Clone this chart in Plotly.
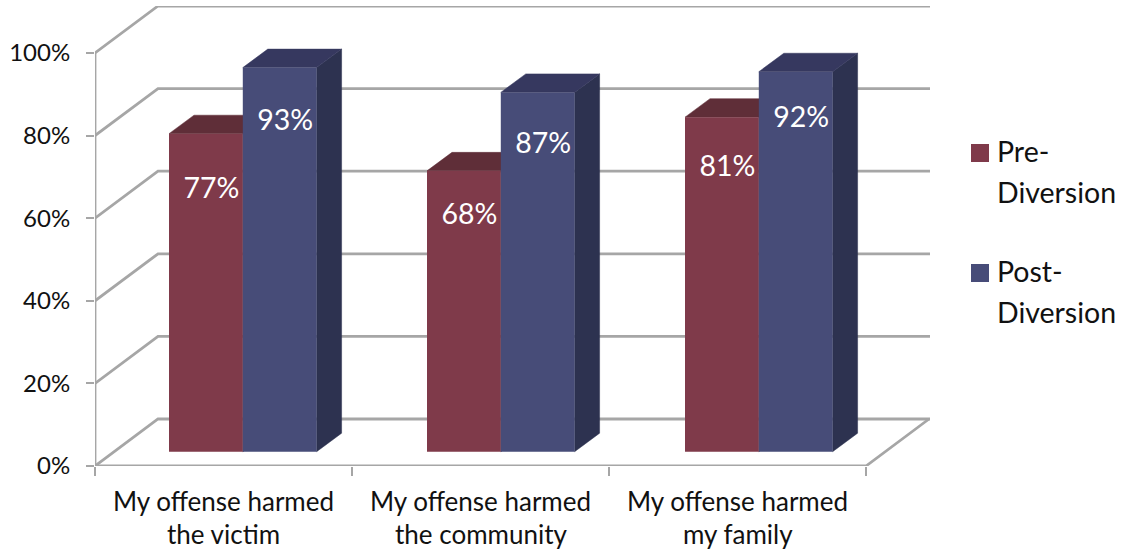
import plotly.graph_objects as go

# ---- data ----
cat_line1 = ["My offense harmed", "My offense harmed", "My offense harmed"]
cat_line2 = ["the victim", "the community", "my family"]
series_names = ["Pre-Diversion", "Post-Diversion"]
pre_values = [77, 68, 81]
post_values = [93, 87, 92]
y_ticks = [0, 20, 40, 60, 80, 100]

# ---- styling / projection ----
W, H = 1125, 550
L, R, T, B = 95, 930, 6, 466
PX_X = 257.0            # px per category
PX_Y = 4.13             # px per percent
FONT = "Lato"
FS_AXIS = 24
FS_CAT = 26
FS_LABEL = 28.5
FS_LEGEND = 28.5
GRID = "#A6A6A6"
TXT = "#111111"
PRE = dict(front="#7F3A4A", top="#5F2E38", side="#552A34")
POST = dict(front="#474C78", top="#36385F", side="#2D3250")

WALL_DX, WALL_DY = 63 / PX_X, 47 / PX_Y
BAR_DY = 14.3 / PX_Y     # bars sit inside the floor
BAR_X0, BAR_W = 74 / PX_X, 73.8 / PX_X
BAR_STEP = 258 / PX_X
SIDE_DX, SIDE_DY = 25 / PX_X, 18.5 / PX_Y
X_MAX = (R - L) / PX_X
Y_MAX = (B - T) / PX_Y
LABEL_DX = 5.5 / PX_X
LABEL_DROP_PX = [[57, 46, 52], [55, 53, 48]]

fig = go.Figure()


def line(xs, ys):
    fig.add_trace(go.Scatter(x=xs, y=ys, mode="lines", showlegend=False, hoverinfo="skip",
                             line=dict(color=GRID, width=2.8), cliponaxis=False, zorder=0))


def face(xs, ys, color, z):
    fig.add_trace(go.Scatter(x=xs, y=ys, mode="lines", fill="toself", fillcolor=color,
                             line=dict(color=color, width=0.5), showlegend=False,
                             hoverinfo="skip", zorder=z))


# walls and floor
for g in y_ticks:
    line([0, WALL_DX, X_MAX], [g, g + WALL_DY, g + WALL_DY])
line([0, 0], [0, 100])
line([0, 3, 3 + WALL_DX], [0, 0, WALL_DY])

# bars: side + top drawn behind, front faces via bar traces
for s, (vals, col, name) in enumerate(zip([pre_values, post_values], [PRE, POST], series_names)):
    z = 1 + 2 * s
    for i, v in enumerate(vals):
        x0 = i * BAR_STEP + BAR_X0 + s * BAR_W
        x1 = x0 + BAR_W
        y0, y1 = BAR_DY, BAR_DY + v
        face([x1, x1 + SIDE_DX, x1 + SIDE_DX, x1, x1],
             [y0, y0 + SIDE_DY, y1 + SIDE_DY, y1, y0], col["side"], z)
        face([x0, x0 + SIDE_DX, x1 + SIDE_DX, x1, x0],
             [y1, y1 + SIDE_DY, y1 + SIDE_DY, y1, y1], col["top"], z)
    fig.add_trace(go.Bar(
        x=[i * BAR_STEP + BAR_X0 + (s + 0.5) * BAR_W for i in range(3)], y=vals, base=BAR_DY,
        width=BAR_W, marker=dict(color=col["front"], line=dict(width=0)),
        name=name, showlegend=False, zorder=z + 1))

# data labels
for s, vals in enumerate([pre_values, post_values]):
    fig.add_trace(go.Scatter(
        x=[i * BAR_STEP + BAR_X0 + (s + 0.5) * BAR_W + LABEL_DX for i in range(3)],
        y=[BAR_DY + v - d / PX_Y for v, d in zip(vals, LABEL_DROP_PX[s])],
        text=[f"{v}%" for v in vals], mode="text", showlegend=False, hoverinfo="skip",
        textfont=dict(family=FONT, size=FS_LABEL, color="white"), zorder=9))

# second line of each category label
annotations = [dict(x=i + 0.5, xref="x", y=(B - 534) / (B - T), yref="paper", text=t, showarrow=False,
                    font=dict(family=FONT, size=FS_CAT, color=TXT),
                    xanchor="center", yanchor="middle")
               for i, t in enumerate(cat_line2)]

# legend: swatch + two text rows
shapes = []
for name, col, y0 in zip(series_names, [PRE, POST], [144, 264]):
    shapes.append(dict(type="rect", xref="paper", yref="paper",
                       x0=(971 - L) / (R - L), x1=(989 - L) / (R - L),
                       y0=(B - y0 - 18) / (B - T), y1=(B - y0) / (B - T),
                       fillcolor=col["front"], line=dict(width=0)))
    a, b = name.split("-")
    for txt, py in ((a + "-", y0 + 7), (b, y0 + 48)):
        annotations.append(dict(x=(997 - L) / (R - L), xref="paper", y=(B - py) / (B - T), yref="paper",
                                text=txt, showarrow=False, xanchor="left", yanchor="middle",
                                xshift=-2, font=dict(family=FONT, size=FS_LEGEND, color=TXT)))

fig.update_layout(
    width=W, height=H, autosize=False,
    margin=dict(l=L, r=W - R, t=T, b=H - B, pad=0),
    paper_bgcolor="white", plot_bgcolor="white",
    barmode="overlay", showlegend=False,
    font=dict(family=FONT, size=FS_AXIS, color=TXT),
    annotations=annotations, shapes=shapes,
    xaxis=dict(range=[0, X_MAX], tickmode="array", tickvals=[0.5, 1.5, 2.5], ticktext=cat_line1,
               tickfont=dict(size=FS_CAT),
               ticks="", showgrid=False, zeroline=False, showline=False, ticklabelstandoff=18,
               minor=dict(tickmode="array", tickvals=[0, 1, 2, 3], ticks="outside", ticklen=9,
                          tickwidth=2, tickcolor=GRID, showgrid=False)),
    yaxis=dict(range=[0, Y_MAX], tickmode="array", tickvals=y_ticks,
               ticktext=[f"{v}%" for v in y_ticks], ticks="outside", ticklen=8, tickwidth=2,
               tickcolor=GRID, showgrid=False, zeroline=False, showline=False, ticklabelstandoff=11),
)

fig.write_html("out.html", config={"displayModeBar": False},
               post_script="document.body.style.margin='0';")
